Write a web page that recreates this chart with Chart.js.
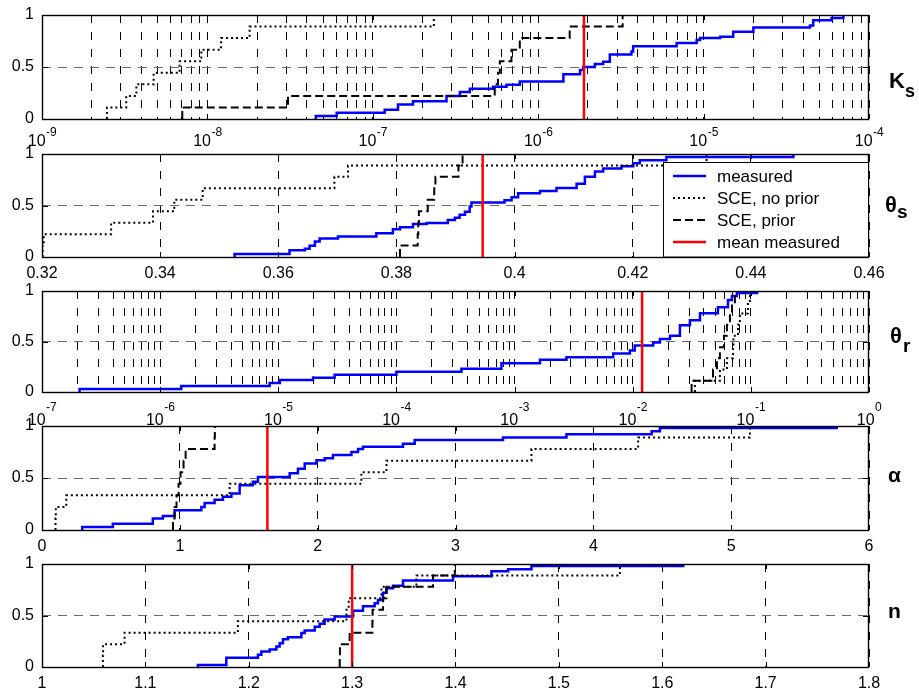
<!DOCTYPE html>
<html><head><meta charset="utf-8">
<script src="https://cdn.jsdelivr.net/npm/chart.js@4.4.1/dist/chart.umd.min.js"></script>
<style>
html,body{margin:0;padding:0;background:#fff;}
#wrap{position:relative;width:919px;height:694px;overflow:hidden;background:#fff;}
canvas{position:absolute;left:0;}
</style></head><body><div id="wrap">
<canvas id="p0"></canvas><canvas id="p1"></canvas><canvas id="p2"></canvas><canvas id="p3"></canvas><canvas id="p4"></canvas>
</div>
<script>
// ---------------- data ----------------
const sceLevels = [0.111, 0.222, 0.333, 0.444, 0.556, 0.667, 0.778, 0.889, 1.0];

const ksMeasuredX = [4.52e-8, 6.05e-8, 1.18e-7, 1.42e-7, 1.75e-7, 2.79e-7, 3.36e-7, 3.86e-7, 5.33e-7, 6.43e-7, 7.74e-7, 1.42e-6, 1.79e-6, 1.87e-6, 2.2e-6, 2.47e-6, 2.71e-6, 3.66e-6, 3.75e-6, 6.87e-6, 9.08e-6, 9.51e-6, 1.26e-5, 1.51e-5, 2.0e-5, 4.4e-5, 4.6e-5, 5.94e-5, 7.0e-5];
const ksMeasuredY = [0.03, 0.06, 0.09, 0.14, 0.17, 0.22, 0.26, 0.29, 0.31, 0.33, 0.36, 0.43, 0.47, 0.50, 0.53, 0.55, 0.62, 0.65, 0.70, 0.73, 0.76, 0.78, 0.79, 0.84, 0.88, 0.90, 0.95, 0.97, 1.0];
const ksNoPriorX = [2.47e-9, 3.23e-9, 3.72e-9, 4.73e-9, 6.79e-9, 9.19e-9, 1.21e-8, 1.80e-8, 2.34e-7];
const ksPriorX = [7.05e-9, 3.07e-8, 5.46e-7, 5.71e-7, 5.86e-7, 6.89e-7, 7.74e-7, 1.55e-6, 3.24e-6];
const ksMean = 1.89e-6;

const thetaSMeasuredX = [0.3526, 0.3619, 0.3645, 0.3653, 0.3662, 0.3670, 0.3701, 0.3766, 0.3794, 0.3806, 0.3828, 0.3851, 0.3887, 0.3899, 0.3907, 0.3916, 0.3924, 0.3927, 0.3983, 0.3995, 0.4006, 0.4043, 0.4071, 0.4105, 0.4119, 0.4136, 0.4150, 0.4181, 0.4201, 0.4212, 0.4257, 0.4472];
const thetaSMeasuredY = [0.03, 0.065, 0.08, 0.11, 0.15, 0.18, 0.20, 0.23, 0.27, 0.29, 0.32, 0.33, 0.36, 0.38, 0.41, 0.44, 0.49, 0.53, 0.55, 0.58, 0.62, 0.64, 0.67, 0.71, 0.78, 0.83, 0.86, 0.88, 0.91, 0.94, 0.97, 1.0];
const thetaSNoPriorX = [0.3201, 0.3203, 0.3317, 0.3388, 0.3424, 0.3472, 0.3695, 0.3718, 0.4325];
const thetaSPriorX = [0.3806, 0.3836, 0.3837, 0.3838, 0.3853, 0.3864, 0.3866, 0.3905, 0.3912];
const thetaSMean = 0.3946;

const thetaRMeasuredX = [2.08e-7, 1.51e-6, 8.45e-6, 1.03e-5, 1.97e-5, 3.0e-5, 1.0e-4, 3.55e-4, 7.74e-4, 1.64e-3, 2.75e-3, 6.84e-3, 9.46e-3, 1.04e-2, 1.49e-2, 1.70e-2, 2.07e-2, 2.51e-2, 3.05e-2, 3.71e-2, 5.26e-2, 6.4e-2, 6.92e-2, 7.62e-2, 0.113];
const thetaRMeasuredY = [0.03, 0.06, 0.09, 0.12, 0.14, 0.17, 0.20, 0.23, 0.285, 0.32, 0.345, 0.38, 0.41, 0.46, 0.49, 0.525, 0.557, 0.66, 0.71, 0.78, 0.84, 0.91, 0.95, 0.98, 1.0];
const thetaRNoPriorX = [0.0336, 0.0547, 0.0627, 0.0705, 0.0712, 0.0778, 0.0807, 0.0944, 0.0982];
const thetaRPriorX = [0.0315, 0.0478, 0.0516, 0.0547, 0.0592, 0.0627, 0.0665, 0.0692, 0.0733];
const thetaRMean = 0.0120;

const alphaMeasuredX = [0.292, 0.514, 0.804, 0.877, 0.962, 1.156, 1.180, 1.252, 1.313, 1.374, 1.434, 1.530, 1.567, 1.797, 1.857, 1.906, 1.991, 2.051, 2.111, 2.245, 2.293, 2.329, 2.619, 2.704, 3.345, 3.805, 4.423, 4.483, 5.766];
const alphaMeasuredY = [0.03, 0.06, 0.11, 0.135, 0.19, 0.22, 0.26, 0.29, 0.32, 0.35, 0.43, 0.465, 0.51, 0.545, 0.59, 0.64, 0.67, 0.69, 0.72, 0.75, 0.78, 0.80, 0.83, 0.865, 0.89, 0.92, 0.95, 0.98, 1.0];
const alphaNoPriorX = [0.098, 0.100, 0.176, 1.361, 2.317, 2.499, 3.551, 4.325, 5.136];
const alphaPriorX = [0.950, 0.962, 0.976, 0.991, 1.005, 1.027, 1.042, 1.252, 1.254];
const alphaMean = 1.635;

const nMeasuredX = [1.1508, 1.1783, 1.2089, 1.2122, 1.2202, 1.2267, 1.2299, 1.2331, 1.2379, 1.2509, 1.2541, 1.2638, 1.2686, 1.2734, 1.2831, 1.3009, 1.3105, 1.3218, 1.3250, 1.3299, 1.3332, 1.3396, 1.3492, 1.3976, 1.4348, 1.4509, 1.4735, 1.6203];
const nMeasuredY = [0.02, 0.09, 0.12, 0.15, 0.17, 0.20, 0.23, 0.27, 0.29, 0.33, 0.355, 0.39, 0.42, 0.46, 0.49, 0.545, 0.59, 0.62, 0.65, 0.72, 0.765, 0.79, 0.84, 0.88, 0.93, 0.95, 0.98, 1.0];
const nNoPriorX = [1.0589, 1.0591, 1.0799, 1.1895, 1.2945, 1.2967, 1.3283, 1.3622, 1.559];
const nPriorX = [1.288, 1.2882, 1.2976, 1.3196, 1.3198, 1.3299, 1.3332, 1.3783, 1.3993];
const nMean = 1.30;

// ticks
const yTickValues = [0, 0.5, 1];
const yTickLabels = ['0', '0.5', '1'];
const ksTickExponents = [-9, -8, -7, -6, -5, -4];
const thetaSTicks = [0.32, 0.34, 0.36, 0.38, 0.40, 0.42, 0.44, 0.46];
const thetaSTickLabels = ['0.32', '0.34', '0.36', '0.38', '0.4', '0.42', '0.44', '0.46'];
const thetaRTickExponents = [-7, -6, -5, -4, -3, -2, -1, 0];
const alphaTicks = [0, 1, 2, 3, 4, 5, 6];
const alphaTickLabels = ['0', '1', '2', '3', '4', '5', '6'];
const nTicks = [1, 1.1, 1.2, 1.3, 1.4, 1.5, 1.6, 1.7, 1.8];
const nTickLabels = ['1', '1.1', '1.2', '1.3', '1.4', '1.5', '1.6', '1.7', '1.8'];

const legendLabels = ['measured', 'SCE, no prior', 'SCE, prior', 'mean measured'];

// ---------------- layout ----------------
const FONT = '"Liberation Sans", Arial, Helvetica, sans-serif';
const W = 919, LEFT = 42, RIGHT = 869, PAD_TOP = 14, X_H = 46;
const PANELS = [
  {top: 15, bottom: 119}, {top: 154, bottom: 257}, {top: 291, bottom: 392},
  {top: 426, bottom: 530}, {top: 564, bottom: 667}
];

function stairs(xs, ys) {
  const pts = [{x: xs[0], y: 0}];
  xs.forEach((x, i) => pts.push({x: x, y: ys[i]}));
  return pts;
}
function decadeGrid(exps) {
  const out = [];
  exps.forEach((e, i) => {
    if (i === exps.length - 1) { out.push(Math.pow(10, e)); return; }
    for (let m = 1; m <= 9; m++) out.push(m * Math.pow(10, e));
  });
  return out;
}

const matlabPlugin = {
  id: 'matlab',
  afterDatasetsDraw(chart, args, o) {
    const ctx = chart.ctx, a = chart.chartArea, xs = chart.scales.x, ys = chart.scales.y;
    ctx.save();
    ctx.strokeStyle = '#000';
    ctx.lineWidth = 1;
    ctx.setLineDash([]);
    ctx.beginPath();
    o.majorTicks.forEach(v => {
      const px = Math.round(xs.getPixelForValue(v)) + 0.5;
      ctx.moveTo(px, a.bottom); ctx.lineTo(px, a.bottom - 5);
      ctx.moveTo(px, a.top); ctx.lineTo(px, a.top + 5);
    });
    const py = Math.round(ys.getPixelForValue(0.5)) + 0.5;
    ctx.moveTo(a.left, py); ctx.lineTo(a.left + 6, py);
    ctx.moveTo(a.right, py); ctx.lineTo(a.right - 6, py);
    ctx.stroke();
    // frame
    ctx.lineWidth = 1.4;
    ctx.strokeRect(a.left + 0.5, a.top + 0.5, a.right - a.left - 1, a.bottom - a.top);
    // x labels
    ctx.fillStyle = '#000';
    if (o.log) {
      o.exps.forEach(e => {
        const px = xs.getPixelForValue(Math.pow(10, e));
        ctx.font = '16px ' + FONT;
        const w1 = ctx.measureText('10').width;
        ctx.font = '12px ' + FONT;
        const es = String(e);
        const w2 = ctx.measureText(es).width;
        const x0 = px - (w1 + w2) / 2;
        ctx.textAlign = 'left'; ctx.textBaseline = 'alphabetic';
        ctx.font = '16px ' + FONT;
        ctx.fillText('10', x0, a.bottom + o.tenBase);
        ctx.font = '12px ' + FONT;
        ctx.fillText(es, x0 + w1 + 0.5, a.bottom + o.expBase);
      });
    } else {
      ctx.font = '16px ' + FONT;
      ctx.textAlign = 'center'; ctx.textBaseline = 'alphabetic';
      o.majorTicks.forEach((v, i) => {
        ctx.fillText(o.labels[i], xs.getPixelForValue(v), a.bottom + 21);
      });
    }
    // side label
    const ct = o.canvasTop;
    ctx.textAlign = 'left'; ctx.textBaseline = 'alphabetic';
    ctx.font = 'bold ' + o.side.size + 'px ' + FONT;
    ctx.fillText(o.side.main, o.side.x, o.side.y - ct);
    if (o.side.sub) {
      ctx.font = 'bold ' + o.side.subSize + 'px ' + FONT;
      ctx.fillText(o.side.sub, o.side.sx, o.side.sy - ct);
    }
    // legend
    if (o.legend) {
      const L = o.legend;
      const bx = L.x, by = L.y - ct, bw = L.w, bh = a.bottom - by;
      ctx.fillStyle = '#fff';
      ctx.fillRect(bx, by, bw, bh);
      ctx.strokeStyle = '#000'; ctx.lineWidth = 1;
      ctx.strokeRect(bx + 0.5, by + 0.5, bw, bh - 0.5);
      const styles = [
        {c: '#0000ff', w: 2.5, d: []}, {c: '#000', w: 2, d: [2, 3]},
        {c: '#000', w: 2, d: [8, 4]}, {c: '#ff0000', w: 2.5, d: []}
      ];
      ctx.font = '17px ' + FONT;
      ctx.textBaseline = 'middle';
      legendLabels.forEach((t, i) => {
        const ry = L.rows[i] - ct;
        ctx.strokeStyle = styles[i].c; ctx.lineWidth = styles[i].w; ctx.setLineDash(styles[i].d);
        ctx.beginPath(); ctx.moveTo(bx + 10, ry); ctx.lineTo(bx + 43, ry); ctx.stroke();
        ctx.setLineDash([]);
        ctx.fillStyle = '#000';
        ctx.fillText(t, bx + 54, ry + 1);
      });
    }
    ctx.restore();
  }
};

function makePanel(i, cfg) {
  const g = PANELS[i];
  const cv = document.getElementById('p' + i);
  const h = g.bottom - g.top + PAD_TOP + X_H;
  const canvasTop = g.top - PAD_TOP;
  cv.width = W; cv.height = h;
  cv.style.width = W + 'px'; cv.style.height = h + 'px'; cv.style.top = canvasTop + 'px';
  const gridValues = cfg.log ? decadeGrid(cfg.exps) : cfg.ticks;
  const majorTicks = cfg.log ? cfg.exps.map(e => Math.pow(10, e)) : cfg.ticks;
  new Chart(cv.getContext('2d'), {
    type: 'line',
    data: {
      datasets: [
        {data: stairs(cfg.measX, cfg.measY), borderColor: '#0000ff', borderWidth: 2.5, stepped: true, pointRadius: 0, fill: false, order: 3},
        {data: stairs(cfg.noPriorX, sceLevels), borderColor: '#000', borderWidth: 2, borderDash: [2, 3], stepped: true, pointRadius: 0, fill: false, order: 2},
        {data: stairs(cfg.priorX, sceLevels), borderColor: '#000', borderWidth: 2, borderDash: [8, 4], stepped: true, pointRadius: 0, fill: false, order: 1},
        {data: [{x: cfg.mean, y: 0}, {x: cfg.mean, y: 1}], borderColor: '#ff0000', borderWidth: 2.5, pointRadius: 0, fill: false, order: 0}
      ]
    },
    options: {
      responsive: false, animation: false, devicePixelRatio: 1,
      layout: {padding: {top: PAD_TOP, left: 0, right: W - RIGHT, bottom: 0}},
      events: [],
      plugins: {
        legend: {display: false}, tooltip: {enabled: false},
        matlab: {
          log: !!cfg.log, exps: cfg.exps, labels: cfg.labels, majorTicks: majorTicks,
          tenBase: cfg.tenBase, expBase: cfg.expBase, canvasTop: canvasTop,
          side: cfg.side, legend: cfg.legend
        }
      },
      scales: {
        x: {
          type: cfg.log ? 'logarithmic' : 'linear', position: 'bottom',
          min: cfg.min, max: cfg.max,
          afterBuildTicks: s => { s.ticks = gridValues.map(v => ({value: v})); },
          afterFit: s => { s.height = X_H; s.paddingLeft = 0; s.paddingRight = 0; },
          ticks: {display: false, autoSkip: false},
          grid: {color: '#000', lineWidth: 1, drawTicks: false},
          border: {display: false, dash: [8, 9]}
        },
        y: {
          min: 0, max: 1,
          afterBuildTicks: s => { s.ticks = yTickValues.map(v => ({value: v})); },
          afterFit: s => { s.width = LEFT; s.paddingTop = 0; s.paddingBottom = 0; },
          ticks: {autoSkip: false, padding: 8, color: '#000', font: {family: FONT, size: 16},
                  callback: (v, idx) => yTickLabels[idx]},
          grid: {color: c => (c.tick && c.tick.value === 0.5) ? '#6a6a6a' : 'rgba(0,0,0,0)', lineWidth: 1, drawTicks: false},
          border: {display: false, dash: [9, 7]}
        }
      }
    },
    plugins: [matlabPlugin]
  });
}

makePanel(0, {log: true, min: 1e-9, max: 1e-4, exps: ksTickExponents, tenBase: 27, expBase: 17,
  measX: ksMeasuredX, measY: ksMeasuredY, noPriorX: ksNoPriorX, priorX: ksPriorX, mean: ksMean,
  side: {main: 'K', size: 22, x: 889, y: 88, sub: 's', subSize: 18, sx: 905, sy: 97}});
makePanel(1, {min: 0.32, max: 0.46, ticks: thetaSTicks, labels: thetaSTickLabels,
  measX: thetaSMeasuredX, measY: thetaSMeasuredY, noPriorX: thetaSNoPriorX, priorX: thetaSPriorX, mean: thetaSMean,
  side: {main: 'θ', size: 22, x: 885, y: 212, sub: 's', subSize: 19, sx: 897, sy: 218},
  legend: {x: 663, y: 162, w: 205, rows: [176, 198, 220, 242]}});
makePanel(2, {log: true, min: 1e-7, max: 1, exps: thetaRTickExponents, tenBase: 33, expBase: 19,
  measX: thetaRMeasuredX, measY: thetaRMeasuredY, noPriorX: thetaRNoPriorX, priorX: thetaRPriorX, mean: thetaRMean,
  side: {main: 'θ', size: 22, x: 890, y: 343, sub: 'r', subSize: 19, sx: 903, sy: 352}});
makePanel(3, {min: 0, max: 6, ticks: alphaTicks, labels: alphaTickLabels,
  measX: alphaMeasuredX, measY: alphaMeasuredY, noPriorX: alphaNoPriorX, priorX: alphaPriorX, mean: alphaMean,
  side: {main: 'α', size: 21, x: 888, y: 482}});
makePanel(4, {min: 1, max: 1.8, ticks: nTicks, labels: nTickLabels,
  measX: nMeasuredX, measY: nMeasuredY, noPriorX: nNoPriorX, priorX: nPriorX, mean: nMean,
  side: {main: 'n', size: 21, x: 888, y: 618}});
</script>
</body></html>
